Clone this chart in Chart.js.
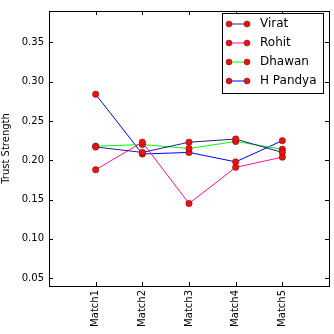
<!DOCTYPE html>
<html>
<head>
<meta charset="utf-8">
<script src="https://cdn.jsdelivr.net/npm/chart.js@4"></script>
<style>
  html, body { margin: 0; padding: 0; background: #fff; }
  #wrap { width: 334px; height: 334px; }
</style>
</head>
<body>
<div id="wrap"><canvas id="chart" width="334" height="334"></canvas></div>
<script>
// data
const matchLabels = ['Match1', 'Match2', 'Match3', 'Match4', 'Match5'];
const virat = [0.217, 0.210, 0.223, 0.227, 0.210];
const rohit = [0.188, 0.223, 0.145, 0.191, 0.204];
const dhawan = [0.218, 0.220, 0.215, 0.224, 0.214];
const hPandya = [0.284, 0.208, 0.210, 0.198, 0.225];
const yTicks = [0.05, 0.10, 0.15, 0.20, 0.25, 0.30, 0.35];

const FONT = 'DejaVu Sans';

const series = [
  { label: 'Virat', values: virat, color: '#2e1a8e' },
  { label: 'Rohit', values: rohit, color: '#ff1493' },
  { label: 'Dhawan', values: dhawan, color: '#00ff00' },
  { label: 'H Pandya', values: hPandya, color: '#0000ff' },
];

// matplotlib-style ticks pointing inward on all four sides + frame
const frameTicks = {
  id: 'frameTicks',
  afterDraw(chart) {
    const { ctx, chartArea: a, scales } = chart;
    ctx.save();
    ctx.strokeStyle = '#000';
    ctx.lineWidth = 1;
    const len = 4;
    scales.x.ticks.forEach((t) => {
      const px = Math.round(scales.x.getPixelForValue(t.value)) + 0.5;
      ctx.beginPath();
      ctx.moveTo(px, a.bottom); ctx.lineTo(px, a.bottom - len);
      ctx.moveTo(px, a.top); ctx.lineTo(px, a.top + len);
      ctx.stroke();
    });
    scales.y.ticks.forEach((t) => {
      const py = Math.round(scales.y.getPixelForValue(t.value)) + 0.5;
      ctx.beginPath();
      ctx.moveTo(a.left, py); ctx.lineTo(a.left + len, py);
      ctx.moveTo(a.right, py); ctx.lineTo(a.right - len, py);
      ctx.stroke();
    });
    ctx.strokeRect(Math.round(a.left) + 0.5, Math.round(a.top) + 0.5,
      Math.round(a.right - a.left), Math.round(a.bottom - a.top));
    ctx.restore();
  },
};

// legend box inside the plot, upper right
const innerLegend = {
  id: 'innerLegend',
  afterDraw(chart) {
    const { ctx, chartArea: a } = chart;
    const x0 = 222, y0 = 13, w = 101, h = 80;
    ctx.save();
    ctx.fillStyle = '#fff';
    ctx.fillRect(x0, y0, w, h);
    ctx.strokeStyle = '#000';
    ctx.lineWidth = 1;
    ctx.strokeRect(x0 + 0.5, y0 + 0.5, w, h);
    ctx.font = `12px "${FONT}"`;
    ctx.textBaseline = 'middle';
    chart.data.datasets.forEach((ds, i) => {
      const y = y0 + 11 + i * 19;
      ctx.strokeStyle = ds.borderColor;
      ctx.lineWidth = 1;
      ctx.beginPath();
      ctx.moveTo(229, y); ctx.lineTo(247, y);
      ctx.stroke();
      [229, 247].forEach((mx) => {
        ctx.beginPath();
        ctx.arc(mx, y, 3, 0, Math.PI * 2);
        ctx.fillStyle = '#ee1111';
        ctx.fill();
        ctx.strokeStyle = '#661111';
        ctx.lineWidth = 0.5;
        ctx.stroke();
      });
      ctx.fillStyle = '#000';
      ctx.fillText(ds.label, 260, y);
    });
    ctx.restore();
  },
};

new Chart(document.getElementById('chart'), {
  type: 'line',
  data: {
    datasets: series.map((s) => ({
      label: s.label,
      data: s.values.map((v, i) => ({ x: i, y: v })),
      borderColor: s.color,
      borderWidth: 1,
      pointRadius: 3.2,
      pointBackgroundColor: '#ee1111',
      pointBorderColor: '#661111',
      pointBorderWidth: 0.5,
      tension: 0,
    })),
  },
  options: {
    responsive: false,
    animation: false,
    devicePixelRatio: 1,
    layout: { padding: { top: 7, right: 5, left: 0, bottom: 0 } },
    plugins: { legend: { display: false }, tooltip: { enabled: false } },
    scales: {
      x: {
        type: 'linear',
        min: -1,
        max: 5,
        afterBuildTicks: (scale) => { scale.ticks = matchLabels.map((_, i) => ({ value: i })); },
        afterFit: (scale) => { scale.height = 48; },
        grid: { display: false, drawTicks: false },
        border: { display: false },
        ticks: {
          color: '#000',
          font: { family: FONT, size: 10 },
          maxRotation: 90,
          minRotation: 90,
          padding: 4,
          autoSkip: false,
          callback: (v) => matchLabels[v] ?? '',
        },
      },
      y: {
        min: 0.04,
        max: 0.39,
        afterBuildTicks: (scale) => { scale.ticks = yTicks.map((v) => ({ value: v })); },
        afterFit: (scale) => { scale.width = 49; },
        grid: { display: false, drawTicks: false },
        border: { display: false },
        title: {
          display: true,
          text: 'Trust Strength',
          color: '#000',
          font: { family: FONT, size: 10 },
          padding: { top: 0, bottom: 4 },
        },
        ticks: {
          color: '#000',
          font: { family: FONT, size: 10 },
          padding: 5,
          callback: (v) => v.toFixed(2),
        },
      },
    },
  },
  plugins: [frameTicks, innerLegend],
});
</script>
</body>
</html>
